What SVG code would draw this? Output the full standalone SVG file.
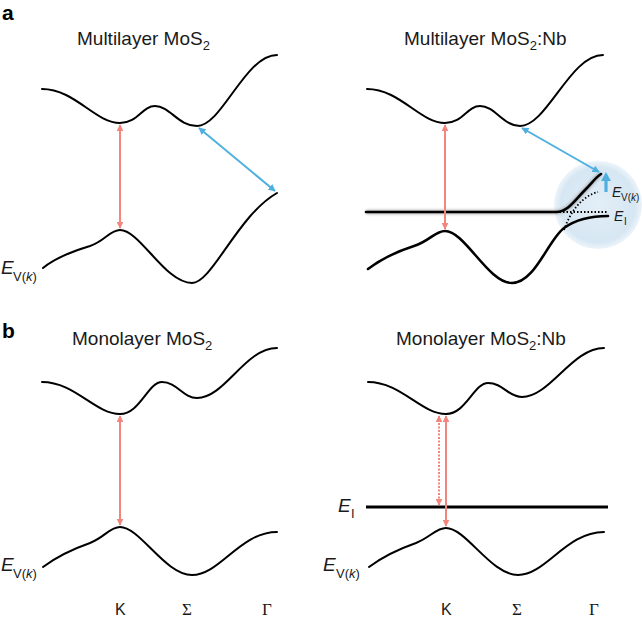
<svg xmlns="http://www.w3.org/2000/svg" width="642" height="621" viewBox="0 0 642 621">
<style>
.band{fill:none;stroke:#000;stroke-width:2;stroke-linecap:round}
.thick{stroke-width:2.6}
.red{fill:none;stroke:#f2857c;stroke-width:2}
.blue{fill:none;stroke:#4fb0e0;stroke-width:2}
.dot{fill:none;stroke:#000;stroke-width:1.8;stroke-dasharray:1.5,2}
.t{font-family:"Liberation Sans",Arial,sans-serif;fill:#1a1a1a}
.title{font-size:19px}
.pl{font-size:21px;font-weight:bold;fill:#000}
.ei{font-style:italic}
.ser{font-family:"Liberation Serif","Times New Roman",serif;fill:#1a1a1a;font-size:17px}
.glowline{fill:none;stroke:#8a8a8a;stroke-width:4;opacity:0.7}
</style>
<defs>
<marker id="ar" viewBox="0 0 10 10" refX="9" refY="5" markerWidth="3.4" markerHeight="3.4" orient="auto-start-reverse" markerUnits="strokeWidth"><path d="M0,0L10,5L0,10z" fill="#f2857c"/></marker>
<marker id="ab" viewBox="0 0 10 10" refX="9" refY="5" markerWidth="3.6" markerHeight="3.6" orient="auto-start-reverse" markerUnits="strokeWidth"><path d="M0,0L10,5L0,10z" fill="#4fb0e0"/></marker>
<filter id="blur" x="-10%" y="-200%" width="120%" height="500%"><feGaussianBlur stdDeviation="1.8"/></filter>
<radialGradient id="glow" cx="0.5" cy="0.5" r="0.5">
<stop offset="0" stop-color="#e3eef7"/>
<stop offset="0.85" stop-color="#d6e7f3"/>
<stop offset="1" stop-color="#dbe9f4" stop-opacity="0.5"/>
</radialGradient>
</defs>

<!-- panel labels and titles -->
<g id="labels">
<text class="t pl" x="2" y="20">a</text>
<text class="t pl" x="2" y="338">b</text>
<text class="t title" x="77" y="45">Multilayer MoS<tspan font-size="13" dy="5">2</tspan></text>
<text class="t title" x="404" y="45">Multilayer MoS<tspan font-size="13" dy="5">2</tspan><tspan dy="-5">:Nb</tspan></text>
<text class="t title" x="72" y="345">Monolayer MoS<tspan font-size="13" dy="5">2</tspan></text>
<text class="t title" x="396" y="345">Monolayer MoS<tspan font-size="13" dy="5">2</tspan><tspan dy="-5">:Nb</tspan></text>
<text class="t" font-size="16" x="115" y="615">K</text>
<text class="ser" x="182" y="615">Σ</text>
<text class="ser" x="262" y="615">Γ</text>
<text class="t" font-size="16" x="441" y="615">K</text>
<text class="ser" x="512" y="615">Σ</text>
<text class="ser" x="589" y="615">Γ</text>
</g>

<!-- Panel a left -->
<g id="a-left">
<path class="band" d="M42,89 C75,89 95,123 120,123 C138,123 142,106 155,106 C170,106 178,126 197,126 C222,126 245,55 277,55"/>
<path class="band" d="M43,268 C55,258 70,252 90,246 C105,241 110,230 120,230 C140,230 165,283 192,283 C212,283 238,215 277,193"/>
<text class="t ei" font-size="19" x="1" y="274">E</text>
<text class="t" font-size="13" x="13" y="281">V(<tspan font-style="italic">k</tspan>)</text>
</g>

<!-- Panel a right -->
<g id="a-right">
<circle cx="598" cy="205" r="44" fill="url(#glow)"/>
<path class="band" d="M367,89 C400,89 420,123 445,123 C463,123 467,106 480,106 C495,106 503,126 520,126 C547,126 570,55 603,55"/>
<path class="band thick" d="M368,269 C380,260 395,252 414,246 C430,241 435,231 445,231 C465,231 488,283 512,283 C535,283 548,240 564,228 C578,218 595,216 608,216"/>
<path class="glowline" d="M366,212 L556,212 C568,212 575,200 585,190 C592,183 596,177 601,174" filter="url(#blur)"/>
<path class="band thick" d="M366,212 L556,212 C568,212 575,200 585,190 C592,183 596,177 601,174"/>
<path class="dot" d="M556,212 L608,212"/>
<path class="dot" d="M564,230 C570,212 582,196 598,192"/>
<text class="t ei" font-size="14" x="612" y="197">E</text>
<text class="t" font-size="10" x="621" y="201">V(<tspan font-style="italic">k</tspan>)</text>
<text class="t ei" font-size="14" x="614" y="221">E</text>
<text class="t" font-size="10" x="624" y="225">I</text>
</g>

<!-- Panel b left -->
<g id="b-left">
<path class="band" d="M42,382 C75,382 95,414 120,414 C140,414 148,382 162,382 C177,382 183,398 197,398 C225,398 245,348 277,348"/>
<path class="band" d="M43,567 C55,558 70,550 90,543 C105,537 110,527 120,527 C140,527 165,575 192,575 C220,575 240,532 277,532"/>
<text class="t ei" font-size="19" x="1" y="571">E</text>
<text class="t" font-size="13" x="13" y="578">V(<tspan font-style="italic">k</tspan>)</text>
</g>

<!-- Panel b right -->
<g id="b-right">
<path class="band" d="M368,382 C401,382 421,414 446,414 C466,414 474,383 488,383 C503,383 508,397 522,397 C550,397 572,348 604,348"/>
<path class="band" d="M369,567 C381,558 396,550 416,543 C431,537 436,528 446,528 C466,528 491,575 518,575 C546,575 566,532 604,532"/>
<path class="glowline" d="M366,507 L608,507" filter="url(#blur)"/>
<path d="M366,507 L608,507" stroke="#000" stroke-width="3"/>
<text class="t ei" font-size="19" x="338" y="512">E</text>
<text class="t" font-size="13" x="351" y="518">I</text>
<text class="t ei" font-size="19" x="323" y="571">E</text>
<text class="t" font-size="13" x="336" y="578">V(<tspan font-style="italic">k</tspan>)</text>
</g>

<!-- connectors -->
<g id="connectors">
<path class="red" d="M120,125 L120,228" marker-start="url(#ar)" marker-end="url(#ar)"/>
<path class="blue" d="M199,128 L275,191" marker-start="url(#ab)" marker-end="url(#ab)"/>
<path class="red" d="M445,125 L445,229" marker-start="url(#ar)" marker-end="url(#ar)"/>
<path class="blue" d="M522,128 L599,172" marker-start="url(#ab)" marker-end="url(#ab)"/>
<path d="M606,192 L606,180" stroke="#4fb0e0" stroke-width="3.2" fill="none"/>
<path d="M601,181 L606,172 L611,181z" fill="#4fb0e0"/>
<path class="red" d="M120,416 L120,525" marker-start="url(#ar)" marker-end="url(#ar)"/>
<path class="red" d="M446,416 L446,526" marker-start="url(#ar)" marker-end="url(#ar)"/>
<path class="red" d="M439,416 L439,505" stroke-dasharray="2,1.5" marker-start="url(#ar)" marker-end="url(#ar)"/>
</g>
</svg>
